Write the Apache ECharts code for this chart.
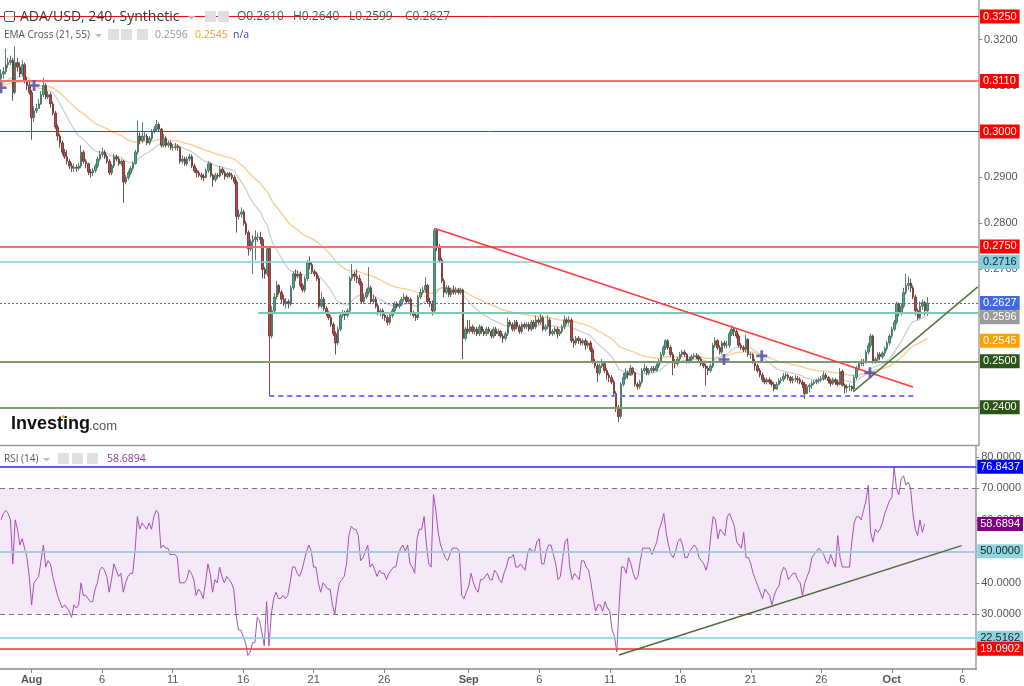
<!DOCTYPE html>
<html><head><meta charset="utf-8">
<script src="https://cdn.jsdelivr.net/npm/echarts@6/dist/echarts.min.js"></script>
<style>html,body{margin:0;padding:0;background:#fff;}#c{width:1024px;height:686px;}</style>
</head><body><div id="c"></div>
<script>
// ---------- DATA (prices in units of 0.0001) ----------
const symbolTitle = 'ADA/USD, 240, Synthetic';
const startTime = Date.UTC(2023, 6, 29, 20, 0); // first 4h candle
const stepHours = 4;
const opens = [3115,
3125,3130,3145,3150,3155,3085, 3150,3140,3125,3145,3110,3100,
3085,3030,3045,3050,3060,3080, 3100,3075,3080,3060,3040,3010, 2990,2975,2955,2945,2935,2925,
2920,2922,2920,2925,2955,2935, 2930,2912,2910,2915,2925,2940, 2950,2955,2945,2935,2910,2925,
2945,2940,2930,2935,2890,2900, 2910,2920,2930,2955,2990,2980, 2990,2990,2975,2985,3000,3005,
3015,3005,2970,2985,2970,2975, 2965,2965,2968,2965,2935,2940, 2930,2940,2945,2925,2915,2910,
2905,2902,2900,2915,2930,2905, 2895,2905,2903,2918,2910,2902, 2908,2905,2900,2890,2815,2820,
2825,2800,2780,2745,2760,2765, 2770,2770,2765,2700,2690,2745, 2555,2610,2640,2665,2650,2635,
2625,2630,2625,2660,2690,2685, 2690,2665,2655,2680,2715,2710, 2695,2690,2680,2620,2635,2615,
2605,2595,2580,2560,2540,2570, 2600,2605,2600,2610,2680,2690, 2685,2680,2670,2630,2640,2650,
2660,2630,2635,2620,2605,2610, 2600,2595,2585,2600,2610,2625, 2620,2625,2635,2640,2630,2635,
2605,2600,2595,2640,2650,2655, 2665,2630,2625,2610,2785,2750, 2720,2675,2650,2660,2645,2655,
2650,2655,2650,2655,2550,2570,
2565,2575,2565,2570,2560,2575, 2565,2560,2570,2565,2555,2570, 2560,2565,2555,2550,2560,2585,
2580,2570,2585,2575,2565,2580, 2575,2580,2570,2585,2575,2590, 2585,2595,2570,2575,2590,2560,
2565,2570,2560,2565,2575,2590, 2585,2590,2545,2540,2550,2545, 2540,2545,2535,2540,2525,2500,
2490,2475,2490,2495,2480,2470, 2465,2455,2430,2400,2380,2450, 2465,2475,2470,2485,2475,2450,
2445,2455,2480,2485,2475,2480, 2485,2480,2490,2500,2515,2530, 2545,2530,2515,2500,2495,2505,
2515,2520,2515,2500,2505,2510, 2512,2510,2505,2495,2490,2485, 2480,2490,2535,2545,2530,2520,
2540,2535,2535,2560,2570,2565, 2555,2535,2530,2525,2548,2515, 2515,2500,2490,2480,2470,2460,
2455,2460,2455,2450,2440,2450, 2458,2460,2468,2470,2465,2458, 2462,2462,2460,2455,2450,2430,
2445,2448,2452,2455,2458,2460, 2462,2470,2465,2458,2452,2460, 2455,2450,2478,2448,2442,2445,
2445,2440,2465,2485,2495,2500, 2498,2520,2535,2555,2500,2505, 2515,2510,2518,2528,2540,2555,
2570,2585,2625,2605,2620,2650, 2665,2670,2660,2640,2610,2595,
2620,2628,2610];
const highs = [3135,
3140,3180,3160,3165,3160,3186, 3160,3150,3155,3150,3118,3110,
3090,3055,3060,3070,3088,3117, 3105,3088,3085,3065,3045,3015, 2995,2980,2962,2960,2940,2932,
2930,2928,2932,2970,2960,2940, 2932,2918,2920,2930,2945,2958, 2965,2960,2950,2940,2930,2952,
2950,2945,2940,2938,2905,2915, 2925,2935,2960,3024,2998,3020, 2998,2995,2990,3005,3012,3025,
3020,3008,2995,2990,2980,2980, 2972,2975,2972,2968,2948,2945, 2945,2952,2950,2930,2920,2915,
2910,2908,2920,2935,2932,2908, 2910,2910,2925,2922,2915,2912, 2912,2910,2905,2895,2830,2835,
2830,2805,2785,2765,2775,2785, 2780,2782,2770,2705,2750,2750, 2620,2648,2675,2668,2655,2645,
2638,2635,2665,2695,2700,2698, 2695,2670,2685,2720,2728,2715, 2700,2695,2685,2650,2640,2620,
2610,2600,2585,2565,2575,2605, 2612,2610,2615,2685,2712,2695, 2700,2688,2675,2648,2658,2705,
2665,2645,2640,2625,2615,2615, 2605,2600,2605,2615,2630,2630, 2632,2640,2648,2645,2640,2638,
2610,2605,2645,2658,2662,2683, 2668,2638,2632,2790,2788,2755, 2725,2680,2665,2665,2660,2665,
2662,2660,2660,2658,2575,2590,
2590,2580,2575,2575,2580,2578, 2570,2575,2575,2568,2575,2575, 2570,2568,2560,2565,2595,2590,
2585,2590,2590,2580,2585,2585, 2585,2585,2590,2590,2600,2595, 2605,2600,2580,2600,2595,2570,
2575,2575,2570,2580,2600,2595, 2598,2595,2550,2555,2555,2550, 2550,2550,2545,2545,2530,2505,
2495,2495,2505,2500,2485,2475, 2470,2460,2435,2405,2455,2475, 2485,2480,2492,2488,2478,2455,
2460,2485,2495,2490,2485,2490, 2490,2495,2505,2520,2535,2548, 2548,2535,2520,2505,2510,2520,
2525,2525,2518,2510,2515,2518, 2518,2515,2510,2500,2495,2490, 2495,2540,2552,2548,2535,2545,
2545,2545,2565,2578,2575,2570, 2560,2540,2535,2558,2550,2520, 2518,2505,2495,2485,2475,2465,
2465,2465,2460,2455,2455,2462, 2465,2475,2476,2474,2468,2468, 2470,2468,2465,2460,2455,2450,
2452,2458,2460,2462,2465,2468, 2478,2475,2468,2462,2465,2464, 2460,2485,2482,2452,2450,2452,
2448,2470,2490,2500,2505,2505, 2525,2540,2560,2558,2510,2520, 2520,2522,2532,2545,2560,2575,
2590,2630,2628,2625,2660,2690, 2685,2680,2665,2645,2615,2630,
2635,2632,2640];
const lows = [3105,
3115,3125,3138,3145,3067,3080, 3130,3118,3120,3105,3090,3080,
2982,3020,3040,3050,3058,3075, 3070,3070,3052,3035,3005,2980, 2965,2948,2940,2928,2918,2912,
2912,2912,2915,2920,2930,2920, 2905,2900,2903,2910,2920,2935, 2945,2940,2930,2905,2905,2920,
2935,2925,2925,2845,2885,2895, 2905,2915,2928,2950,2972,2975, 2980,2970,2970,2980,2995,3000,
3000,2965,2965,2965,2965,2960, 2958,2960,2958,2930,2930,2925, 2925,2935,2920,2910,2900,2900,
2895,2892,2898,2910,2900,2880, 2890,2898,2900,2905,2895,2898, 2900,2895,2885,2780,2808,2812,
2795,2775,2730,2740,2690,2720, 2760,2755,2680,2680,2685,2426, 2550,2605,2635,2645,2625,2620,
2615,2615,2620,2655,2675,2680, 2660,2650,2650,2675,2700,2690, 2685,2675,2615,2615,2610,2598,
2590,2575,2555,2515,2535,2565, 2595,2590,2595,2605,2675,2675, 2670,2665,2625,2625,2635,2645,
2625,2625,2615,2600,2598,2592, 2588,2578,2580,2595,2605,2615, 2615,2620,2630,2625,2625,2600,
2595,2588,2590,2635,2645,2650, 2625,2618,2600,2605,2740,2715, 2670,2640,2645,2640,2640,2645,
2645,2645,2645,2505,2545,2560,
2560,2560,2558,2555,2555,2560, 2555,2555,2560,2550,2550,2555, 2555,2550,2540,2545,2555,2575,
2565,2565,2570,2560,2560,2570, 2570,2565,2565,2570,2570,2580, 2580,2565,2565,2570,2555,2555,
2558,2550,2555,2560,2570,2580, 2580,2540,2530,2535,2538,2535, 2535,2525,2530,2520,2495,2485,
2455,2470,2485,2475,2460,2455, 2450,2425,2390,2368,2375,2445, 2460,2462,2468,2470,2445,2438,
2440,2450,2475,2470,2470,2475, 2475,2478,2485,2495,2510,2525, 2525,2510,2470,2485,2490,2500,
2510,2510,2495,2495,2500,2505, 2505,2500,2490,2485,2447,2470, 2475,2485,2530,2525,2515,2515,
2530,2528,2530,2555,2555,2550, 2530,2525,2520,2520,2510,2505, 2495,2480,2475,2465,2455,2450,
2450,2450,2445,2435,2438,2448, 2452,2455,2462,2460,2452,2452, 2455,2452,2450,2442,2418,2428,
2432,2440,2448,2450,2452,2455, 2458,2460,2452,2445,2448,2448, 2445,2448,2445,2430,2432,2435,
2435,2437,2460,2480,2490,2490, 2495,2515,2530,2495,2495,2500, 2502,2505,2512,2522,2535,2550,
2565,2580,2598,2600,2615,2645, 2655,2650,2635,2600,2590,2592,
2612,2600,2599];
const closes = [3125,
3130,3145,3150,3155,3085,3150, 3140,3125,3145,3110,3100,3085,
3030,3045,3050,3060,3080,3100, 3075,3080,3060,3040,3010,2990, 2975,2955,2945,2935,2925,2920,
2922,2920,2925,2955,2935,2930, 2912,2910,2915,2925,2940,2950, 2955,2945,2935,2910,2925,2945,
2940,2930,2935,2890,2900,2910, 2920,2930,2955,2990,2980,2990, 2990,2975,2985,3000,3005,3015,
3005,2970,2985,2970,2975,2965, 2965,2968,2965,2935,2940,2930, 2940,2945,2925,2915,2910,2905,
2902,2900,2915,2930,2905,2895, 2905,2903,2918,2910,2902,2908, 2905,2900,2890,2815,2820,2825,
2800,2780,2745,2760,2765,2770, 2770,2765,2700,2690,2745,2555, 2610,2640,2665,2650,2635,2625,
2630,2625,2660,2690,2685,2690, 2665,2655,2680,2715,2710,2695, 2690,2680,2620,2635,2615,2605,
2595,2580,2560,2540,2570,2600, 2605,2600,2610,2680,2690,2685, 2680,2670,2630,2640,2650,2660,
2630,2635,2620,2605,2610,2600, 2595,2585,2600,2610,2625,2620, 2625,2635,2640,2630,2635,2605,
2600,2595,2640,2650,2655,2665, 2630,2625,2610,2785,2750,2720, 2675,2650,2660,2645,2655,2650,
2655,2650,2655,2550,2570,2565,
2575,2565,2570,2560,2575,2565, 2560,2570,2565,2555,2570,2560, 2565,2555,2550,2560,2585,2580,
2570,2585,2575,2565,2580,2575, 2580,2570,2585,2575,2590,2585, 2595,2570,2575,2590,2560,2565,
2570,2560,2565,2575,2590,2585, 2590,2545,2540,2550,2545,2540, 2545,2535,2540,2525,2500,2490,
2475,2490,2495,2480,2470,2465, 2455,2430,2400,2380,2450,2465, 2475,2470,2485,2475,2450,2445,
2455,2480,2485,2475,2480,2485, 2480,2490,2500,2515,2530,2545, 2530,2515,2500,2495,2505,2515,
2520,2515,2500,2505,2510,2512, 2510,2505,2495,2490,2485,2480, 2490,2535,2545,2530,2520,2540,
2535,2535,2560,2570,2565,2555, 2535,2530,2525,2548,2515,2515, 2500,2490,2480,2470,2460,2455,
2460,2455,2450,2440,2450,2458, 2460,2468,2470,2465,2458,2462, 2462,2460,2455,2450,2430,2445,
2448,2452,2455,2458,2460,2462, 2470,2465,2458,2452,2460,2455, 2450,2478,2448,2442,2445,2445,
2440,2465,2485,2495,2500,2498, 2520,2535,2555,2500,2505,2515, 2510,2518,2528,2540,2555,2570,
2585,2625,2605,2620,2650,2665, 2670,2660,2640,2610,2595,2620,
2628,2610,2627];
const rsi = [60,
62,63,62,60,46,60, 57,52,54,51,48,42,
33,40,41,42,47,52, 45,47,46,42,39,36, 34,32,33,32,31,29,
33,32,33,40,36,36, 35,34,34,38,40,44, 45,44,42,37,41,46,
44,42,43,37,40,42, 43,43,50,61,57,59, 58,57,59,57,61,63,
62,51,52,51,51,49, 49,49,48,40,40,40, 41,44,43,41,36,38,
37,35,40,46,43,37, 41,40,45,42,40,42, 41,40,38,30,25,25,
23,21,17,18,21,21, 29,28,24,20,34,20, 30,35,37,35,35,36,
35,36,40,45,45,43, 42,44,47,50,52,50, 45,45,40,37,40,39,
38,38,33,30,36,40, 41,42,46,55,58,57, 57,55,47,48,50,52,
45,46,44,42,44,43, 43,41,43,44,45,45, 49,51,52,50,52,46,
45,43,54,57,57,61, 52,46,45,68,63,56, 52,50,48,47,49,51,
51,51,50,36,35,37,
39,43,40,38,37,41, 41,42,43,41,41,44, 43,41,40,43,45,48,
48,49,45,45,46,45, 44,49,51,50,50,53, 54,46,46,50,52,52,
49,46,41,42,48,53, 54,45,41,43,42,41, 47,47,45,44,40,35,
31,33,33,31,34,32, 31,25,23,18,33,45, 45,43,48,46,43,41,
42,47,51,51,51,51, 49,51,53,57,59,62, 56,52,49,48,50,53,
54,52,48,48,50,51, 52,51,48,47,46,44, 47,55,61,60,54,57,
56,55,61,62,60,58, 53,52,51,56,48,48, 46,43,41,39,37,35,
38,37,36,33,36,38, 39,43,45,44,41,42, 43,43,41,40,36,40,
42,44,48,49,50,51, 50,49,47,46,49,47, 45,55,48,45,45,45,
45,53,59,61,61,60, 63,66,71,56,53,57, 56,57,59,62,64,66,
67,76.8437,70,68,73,74, 71,72,70,62,57,55,
60,56,58.6894];

const T = (m, d, h, mi) => Date.UTC(2023, m - 1, d, h || 0, mi || 0);
const DAY = 86400000;
const tickDates = [T(8,1),T(8,6),T(8,11),T(8,16),T(8,21),T(8,26),T(9,1),T(9,6),T(9,11),T(9,16),T(9,21),T(9,26),T(10,1),T(10,6)];
const tickLabels = ['Aug','6','11','16','21','26','Sep','6','11','16','21','26','Oct','6'];
const priceTicks = [0.24,0.25,0.26,0.27,0.28,0.29,0.30,0.31,0.32];
const rsiTicks = [20,30,40,50,60,70,80];
const emaPeriods = [21, 55];
const emaSeeds = [0.3100, 0.3098];
const emaHeaderValues = [0.2596, 0.2545];
const crossTimes = [T(7,29,20), T(8,1,4), T(9,18,23), T(9,21,15), T(9,29,6,40)];
const crossValues = [0.3095, 0.3100, 0.2504, 0.2512, 0.2475];
const resistance = [0.3250, 0.3110, 0.3000, 0.2750];
const cyanLevel = 0.2716;
const supportLevels = [0.2500, 0.2400];
const tealLevel = 0.2605, tealFrom = T(8,17,0,30);
const dashLevel = 0.2425, dashFrom = T(8,17,19,12), dashTo = T(10,2,11);
const downTrend = [[T(8,29,12,30), 0.2789], [T(10,2,7,40), 0.2444]];
const upTrend = [[T(9,28,2,24), 0.2434], [T(10,6,21,36), 0.2662]];
const rsiLevels = [76.8437, 50, 22.5162, 19.0902];
const rsiBand = [30, 70];
const rsiTrend = [[T(9,11,15,36), 17.1], [T(10,5,22,48), 51.8]];

// ---------- BUILD ----------
const n = closes.length;
const times = closes.map((_, i) => startTime + i * stepHours * 3600000);
const candles = closes.map((c, i) => [times[i], opens[i] / 1e4, c / 1e4, lows[i] / 1e4, highs[i] / 1e4]);
function ema(period, seed) {
  const k = 2 / (period + 1); let e = seed;
  return closes.map((c, i) => { e = (c / 1e4) * k + e * (1 - k); return [times[i], e]; });
}
const ema21 = ema(emaPeriods[0], emaSeeds[0]);
const ema55 = ema(emaPeriods[1], emaSeeds[1]);
const rsiData = rsi.map((v, i) => [times[i], v]);
const xMin = T(8,1) - 2.2417 * DAY, xMax = T(8,1) + 66.99 * DAY;
const lastC = closes[n-1]/1e4, lastO = opens[n-1]/1e4, lastH = highs[n-1]/1e4, lastL = lows[n-1]/1e4;
const lastRsi = rsi[rsi.length - 1];

const FONT = 'Liberation Sans';
const lab = (bg, fg) => ({show: true, position: 'end', distance: 1, padding: [2, 3, 1, 3], fontSize: 11, fontFamily: FONT,
  backgroundColor: bg, color: fg || '#fff', formatter: p => Number(p.value).toFixed(4)});
const noLab = {show: false};
const hidden = {color: 'rgba(0,0,0,0)', width: 1, type: 'solid'};

const priceLines = [];
resistance.forEach((v, i) => priceLines.push({yAxis: v, lineStyle: {color: (i % 2) ? '#ff6e6e' : '#e81010', width: (i % 2) ? 2 : 1, type: 'solid'}, label: lab('#ff0000')}));
priceLines.push({yAxis: cyanLevel, lineStyle: {color: '#7fd0e0', width: 1.5, type: 'solid'}, label: lab('#80d0e0', '#222')});
priceLines.push({yAxis: emaHeaderValues[0], lineStyle: hidden, label: lab('#9b9b9b')});
priceLines.push({yAxis: emaHeaderValues[1], lineStyle: hidden, label: lab('#ffa000')});
priceLines.push({yAxis: lastC, lineStyle: {color: '#4a62e0', width: 1, type: [2, 2]}, label: lab('#4169e1')});
supportLevels.forEach(v => priceLines.push({yAxis: v, lineStyle: {color: '#7f9a72', width: 2, type: 'solid'}, label: lab('#2a5516')}));
priceLines.push([{coord: [tealFrom, tealLevel], lineStyle: {color: '#7ec8b4', width: 2, type: 'solid'}, label: noLab}, {coord: [xMax, tealLevel]}]);
priceLines.push([{coord: [dashFrom, dashLevel], lineStyle: {color: '#7474ff', width: 2, type: [5, 4]}, label: noLab}, {coord: [dashTo, dashLevel]}]);
priceLines.push([{coord: downTrend[0], lineStyle: {color: '#ff3b3b', width: 1.5, type: 'solid'}, label: noLab}, {coord: downTrend[1]}]);
priceLines.push([{coord: upTrend[0], lineStyle: {color: '#4d7a3d', width: 1.5, type: 'solid'}, label: noLab}, {coord: upTrend[1]}]);

const rsiLines = [
  {yAxis: rsiLevels[0], lineStyle: {color: '#2a2ae6', width: 1.5, type: 'solid'}, label: lab('#0000ff')},
  {yAxis: rsiBand[1], lineStyle: {color: '#777', width: 1, type: [5, 4]}, label: noLab},
  {yAxis: rsiBand[0], lineStyle: {color: '#777', width: 1, type: [5, 4]}, label: noLab},
  {yAxis: rsiLevels[1], lineStyle: {color: '#a9c8dc', width: 2, type: 'solid'}, label: lab('#8fd4e2', '#222')},
  {yAxis: rsiLevels[2], lineStyle: {color: '#7fcfe0', width: 1.5, type: 'solid'}, label: lab('#8fd4e2', '#222')},
  {yAxis: rsiLevels[3], lineStyle: {color: '#ff3030', width: 1.5, type: 'solid'}, label: lab('#ff0000')},
  {yAxis: lastRsi, lineStyle: hidden, label: lab('#800080')},
  [{coord: rsiTrend[0], lineStyle: {color: '#4a6a3a', width: 1.5, type: 'solid'}, label: noLab}, {coord: rsiTrend[1]}]
];

const box = (x, y) => ({type: 'rect', shape: {x: x, y: y, width: 11, height: 11}, style: {fill: '#e0e0e0'}, z: 20});
const txt = (x, y, t, font, fill) => ({type: 'text', x: x, y: y, z: 20, style: {text: t, font: font, fill: fill, verticalAlign: 'middle'}});
const caret = (x, y) => ({type: 'polygon', z: 20, shape: {points: [[x, y], [x + 7, y], [x + 3.5, y + 3.5]]}, style: {fill: '#bbb'}});
const OS = '"Open Sans"';
const ohlcParts = ['O' + lastO.toFixed(4), 'H' + lastH.toFixed(4), 'L' + lastL.toFixed(4), 'C' + lastC.toFixed(4)];

const graphics = [
  {type: 'line', shape: {x1: 0, y1: 445.5, x2: 979, y2: 445.5}, style: {stroke: '#9a9a9a', lineWidth: 1.5}, z: 10},
  {type: 'rect', shape: {x: 4.5, y: 11.5, width: 10, height: 10, r: 1.5}, style: {fill: 'rgba(255,255,255,0.6)', stroke: '#555', lineWidth: 1}, z: 20},
  txt(20, 17, symbolTitle, '14px ' + OS, '#3a3a3a'),
  caret(188, 16), box(205, 11), box(218, 11),
  txt(4, 35, 'EMA Cross (' + emaPeriods[0] + ', ' + emaPeriods[1] + ')', '10px ' + OS, '#555'),
  caret(95, 34), box(108, 29), box(121, 29), box(137, 29),
  txt(155, 35, emaHeaderValues[0].toFixed(4), '10.5px ' + OS, '#999'),
  txt(195, 35, emaHeaderValues[1].toFixed(4), '10.5px ' + OS, '#f5a01a'),
  txt(233, 35, 'n/a', '10.5px ' + OS, '#3f3f9f'),
  txt(11, 424, 'Investing', 'bold 18px "' + FONT + '"', '#111'),
  txt(89, 426, '.com', '13px "' + FONT + '"', '#555'),
  {type: 'circle', shape: {cx: 63.3, cy: 416.5, r: 1.6}, style: {fill: '#f7a21b'}, z: 21},
  txt(4, 459, 'RSI (14)', '10px ' + OS, '#555'),
  caret(43, 458), box(58, 453), box(72, 453), box(87, 453),
  txt(107, 459, lastRsi.toFixed(4), '10.5px ' + OS, '#8e3a9e')
];
ohlcParts.forEach((s, i) => graphics.push(txt(237 + i * 56, 17, s, '12px ' + OS, '#2e6b4f')));

const option = {
  animation: false,
  backgroundColor: '#fff',
  grid: [
    {left: 0, right: 45, top: 0, height: 445},
    {left: 0, right: 45, top: 446, height: 223}
  ],
  xAxis: [
    {type: 'value', gridIndex: 0, min: xMin, max: xMax, show: false, splitLine: {show: false}},
    {type: 'value', gridIndex: 1, min: xMin, max: xMax, splitLine: {show: false},
      axisLine: {show: true, lineStyle: {color: '#888', width: 1.5}},
      axisTick: {show: true, customValues: tickDates, length: 4, lineStyle: {color: '#888'}},
      axisLabel: {customValues: tickDates, color: '#555', fontSize: 11, fontFamily: FONT, margin: 5, showMinLabel: true, showMaxLabel: true,
        formatter: v => { const i = tickDates.indexOf(v); if (i < 0) return ''; const s = tickLabels[i]; return isNaN(+s) ? '{b|' + s + '}' : s; },
        rich: {b: {fontWeight: 'bold', color: '#555', fontSize: 11, fontFamily: FONT}}}}
  ],
  yAxis: [
    {type: 'value', gridIndex: 0, position: 'right', min: 0.2318, max: 0.3286, splitLine: {show: false},
      axisLine: {show: true, lineStyle: {color: '#b8b8b8', width: 2}},
      axisTick: {show: true, customValues: priceTicks, length: 3, lineStyle: {color: '#888'}},
      axisLabel: {customValues: priceTicks, color: '#555', fontSize: 11, fontFamily: FONT, margin: 5, formatter: v => v.toFixed(4)}},
    {type: 'value', gridIndex: 1, position: 'right', min: 12.63, max: 83.43, splitLine: {show: false},
      axisLine: {show: true, lineStyle: {color: '#b8b8b8', width: 2}},
      axisTick: {show: true, customValues: rsiTicks, length: 3, lineStyle: {color: '#888'}},
      axisLabel: {customValues: rsiTicks, color: '#555', fontSize: 11, fontFamily: FONT, margin: 5, formatter: v => v.toFixed(4)}}
  ],
  series: [
    {type: 'line', xAxisIndex: 0, yAxisIndex: 0, data: ema55, showSymbol: false, lineStyle: {color: '#fdc98a', width: 1.3}, z: 1},
    {type: 'line', xAxisIndex: 0, yAxisIndex: 0, data: ema21, showSymbol: false, lineStyle: {color: '#cfcfcf', width: 1.3}, z: 1},
    {type: 'candlestick', xAxisIndex: 0, yAxisIndex: 0, data: candles, encode: {x: 0, y: [1, 2, 3, 4]}, barWidth: 2, z: 3,
      itemStyle: {color: '#2fb595', color0: '#c9443a', borderColor: '#4a6f60', borderColor0: '#6a3a34', borderWidth: 0.9},
      markLine: {silent: true, precision: 4, symbol: ['none', 'none'], animation: false, data: priceLines}},
    {type: 'scatter', xAxisIndex: 0, yAxisIndex: 0, data: crossTimes.map((t, i) => [t, crossValues[i]]), z: 6,
      symbol: 'path://M0,4 L10,4 L10,6.5 L0,6.5 Z M3.75,0 L6.25,0 L6.25,10.5 L3.75,10.5 Z', symbolSize: 11,
      itemStyle: {color: '#5a57a6', opacity: 0.9}},
    {type: 'line', xAxisIndex: 1, yAxisIndex: 1, data: rsiData, showSymbol: false, lineStyle: {color: '#a850b8', width: 1}, z: 3,
      markArea: {silent: true, itemStyle: {color: 'rgba(150,40,170,0.1)'}, data: [[{yAxis: rsiBand[0]}, {yAxis: rsiBand[1]}]]},
      markLine: {silent: true, precision: 4, symbol: ['none', 'none'], animation: false, data: rsiLines}}
  ],
  graphic: graphics
};
if (!(opens.length === n && highs.length === n && lows.length === n && rsi.length === n)) {
  option.graphic.push({type: 'text', x: 300, y: 200, style: {text: 'LEN ' + [opens.length, highs.length, lows.length, n, rsi.length].join(','), font: '20px sans-serif', fill: 'red'}, z: 100});
}
const chart = echarts.init(document.getElementById('c'), null, {renderer: 'canvas'});
chart.setOption(option);
</script></body></html>
